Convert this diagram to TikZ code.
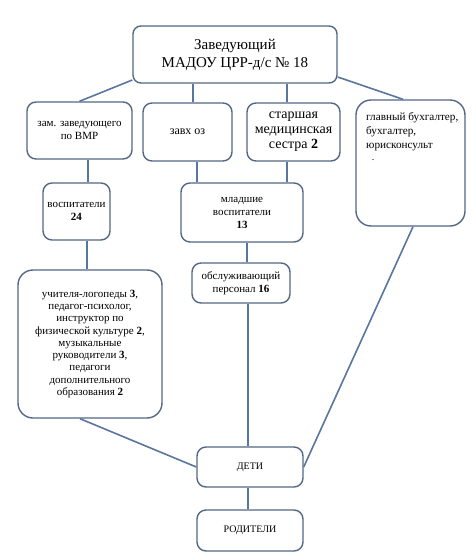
\documentclass[tikz,border=0pt]{standalone}
\usepackage{fontspec}
\setmainfont{Liberation Serif}
\definecolor{bcol}{RGB}{84,104,132}
\definecolor{lcol}{RGB}{88,118,160}
\begin{document}
\begin{tikzpicture}[x=1pt,y=-1pt,
  box/.style={draw=bcol, line width=1.4pt, rounded corners=9pt, fill=white, align=center, inner sep=0pt},
  conn/.style={draw=lcol, line width=1.6pt}]
\useasboundingbox[fill=white] (0,0) rectangle (476,560);

\node[box, rounded corners=8pt, minimum width=204pt, minimum height=57pt, font=\fontsize{15}{18}\selectfont] (top) at (235,54.5) {Заведующий\\МАДОУ ЦРР-д/с № 18};
\node[box, minimum width=105pt, minimum height=57pt, font=\fontsize{11}{13.5}\selectfont] (zam) at (79.5,130.5) {зам. заведующего\\по ВМР};
\node[box, minimum width=89pt, minimum height=58pt, font=\fontsize{12}{14}\selectfont] (zavh) at (187.5,132) {завх оз};
\node[box, minimum width=93pt, minimum height=58pt, font=\fontsize{14}{15}\selectfont] (star) at (293.5,132) {старшая\\медицинская\\сестра \textbf{2}};
\node[box, rounded corners=15pt, minimum width=109pt, minimum height=126pt] (glav) at (410.5,163) {};
\node[anchor=north west, align=left, inner sep=0pt, font=\fontsize{11.2}{14}\selectfont] (glavt) at (366,112) {главный бухгалтер,\\бухгалтер,\\юрисконсульт};
\node[inner sep=0pt, font=\fontsize{10}{12}\selectfont] (dot) at (373,160) {.};
\node[box, minimum width=67pt, minimum height=57pt, font=\fontsize{11}{13}\selectfont] (vosp) at (76.5,211.5) {воспитатели\\\textbf{24}};
\node[box, minimum width=122pt, minimum height=59pt, font=\fontsize{11}{13}\selectfont] (mlad) at (242,212.5) {младшие\\воспитатели\\\textbf{13}};
\node[box, minimum width=98pt, minimum height=40pt, font=\fontsize{11}{13}\selectfont] (obsl) at (241,283) {обслуживающий\\персонал \textbf{16}};
\node[box, rounded corners=15pt, minimum width=144pt, minimum height=148pt, font=\fontsize{11}{12.25}\selectfont] (uchit) at (90,344) {учителя-логопеды \textbf{3},\\педагог-психолог,\\инструктор по\\физической культуре \textbf{2},\\музыкальные\\руководители \textbf{3},\\педагоги\\дополнительного\\образования \textbf{2}};
\node[box, minimum width=106pt, minimum height=40pt, font=\fontsize{10}{12}\selectfont] (deti) at (250,467) {ДЕТИ};
\node[box, minimum width=106pt, minimum height=41pt, font=\fontsize{10}{12}\selectfont] (rodit) at (250,530.5) {РОДИТЕЛИ};

\draw[conn] ([yshift=-25.5pt]top.west) -- (zam.north);
\draw[conn] ([xshift=5.5pt]zavh.north) -- ([xshift=5.5pt]zavh.north |- top.south);
\draw[conn] ([xshift=-6.5pt]star.north) -- ([xshift=-6.5pt]star.north |- top.south);
\draw[conn] ([yshift=-22.5pt]top.east) -- ([xshift=-7.5pt]glav.north);
\draw[conn] ([xshift=11.5pt]vosp.north) -- ([xshift=11.5pt]vosp.north |- zam.south);
\draw[conn] ([xshift=-45pt]mlad.north) -- ([xshift=-45pt]mlad.north |- zavh.south);
\draw[conn] ([xshift=45pt]mlad.north) -- ([xshift=45pt]mlad.north |- star.south);
\draw[conn] ([xshift=-3pt]uchit.north) -- ([xshift=-3pt]uchit.north |- vosp.south);
\draw[conn] ([xshift=6pt]obsl.north) -- ([xshift=6pt]obsl.north |- mlad.south);
\draw[conn] ([xshift=-2pt]deti.north) -- ([xshift=-2pt]deti.north |- obsl.south);
\draw[conn] ([xshift=-10pt]uchit.south) -- (deti.west);
\draw[conn] ([xshift=2.5pt]glav.south) -- (deti.east);
\draw[conn] ([xshift=-2pt]rodit.north) -- ([xshift=-2pt]rodit.north |- deti.south);
\end{tikzpicture}
\end{document}
